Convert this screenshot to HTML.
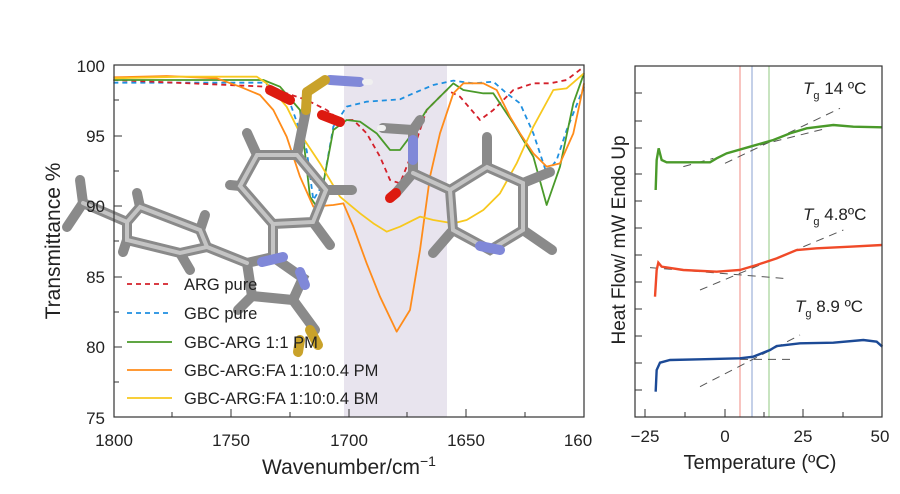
<!DOCTYPE html>
<html><head><meta charset="utf-8"><style>
body{margin:0;background:#fff;width:900px;height:494px;overflow:hidden;font-family:"Liberation Sans",sans-serif}
svg{display:block}
text{font-family:"Liberation Sans",sans-serif;fill:#222}
</style></head><body>
<svg width="900" height="494" viewBox="0 0 900 494" xmlns="http://www.w3.org/2000/svg">
<rect x="344" y="65" width="103" height="352" fill="#e8e4ee"/>
<g fill="none" stroke-width="1.8" stroke-linejoin="round">
<g transform="translate(100,50) scale(0.33333)">
<polyline vector-effect="non-scaling-stroke" stroke="#1e8fe0" stroke-dasharray="5,4" points="40,98 490,98 560,130 620,300 640,450 670,400 700,230 740,170 800,155 900,148 940,130 1000,105 1060,92 1120,100 1180,95 1220,130 1260,160 1300,250 1340,370 1370,330 1400,240 1452,110"/>
<polyline vector-effect="non-scaling-stroke" stroke="#d4202a" stroke-dasharray="5,4" points="40,90 500,110 560,130 620,150 680,180 720,210 760,210 800,250 840,320 870,390 900,400 940,300 980,180 1040,120 1080,140 1140,210 1180,180 1240,120 1300,100 1350,100 1400,90 1452,50"/>
<polyline vector-effect="non-scaling-stroke" stroke="#4a9a2a" points="40,90 490,90 540,110 600,180 630,440 650,470 670,400 700,240 740,210 780,215 830,250 870,300 900,300 930,260 980,180 1060,100 1090,120 1150,130 1180,130 1240,220 1300,320 1340,465 1380,350 1420,160 1452,70"/>
<polyline vector-effect="non-scaling-stroke" stroke="#ff8c1a" points="40,82 200,78 350,85 420,110 480,135 520,180 560,260 600,380 640,470 700,465 730,460 760,530 800,640 840,740 890,845 930,780 960,600 990,380 1020,250 1060,130 1090,100 1150,100 1190,120 1230,200 1260,250 1300,310 1340,350 1380,340 1420,250 1452,100"/>
<polyline vector-effect="non-scaling-stroke" stroke="#f7c81e" points="40,85 250,80 470,80 500,100 560,170 600,250 660,340 720,440 780,490 820,520 860,545 900,530 960,500 1000,510 1060,520 1100,510 1150,480 1200,430 1250,340 1300,230 1360,120 1400,115 1452,70"/>
</g></g>
<g stroke-linecap="round" fill="none">
<g stroke="#8a8a8a" stroke-width="10">
<polyline points="83,203 127,222 140,207 200,230 207,247 180,253 127,240 127,222"/>
<line x1="83" y1="203" x2="80" y2="180"/><line x1="83" y1="203" x2="67" y2="227"/>
<line x1="207" y1="247" x2="247" y2="263"/>
<polyline points="247,263 273,257 303,278 293,300 252,296 247,263"/>
<polyline points="273,257 273,224 313,222 326,190 297,155 257,155 240,186 273,224"/>
<line x1="297" y1="155" x2="306" y2="110"/>
<line x1="257" y1="155" x2="247" y2="133"/><line x1="240" y1="186" x2="230" y2="185"/>
<line x1="326" y1="190" x2="352" y2="190"/><line x1="313" y1="222" x2="330" y2="245"/>
<line x1="293" y1="300" x2="315" y2="330"/><line x1="252" y1="296" x2="238" y2="310"/>
<line x1="140" y1="207" x2="137" y2="193"/><line x1="127" y1="240" x2="123" y2="252"/>
<line x1="200" y1="230" x2="205" y2="215"/><line x1="180" y1="253" x2="190" y2="270"/>
<polyline points="413,130 413,173 396,193"/>
<polyline points="413,173 450,190 487,167 523,183 523,230 490,250 453,230 450,190"/>
<line x1="487" y1="167" x2="487" y2="137"/><line x1="523" y1="183" x2="550" y2="172"/>
<line x1="523" y1="230" x2="552" y2="250"/><line x1="453" y1="230" x2="433" y2="253"/>
<line x1="413" y1="130" x2="383" y2="128"/><line x1="413" y1="130" x2="420" y2="120"/>
</g>
<g stroke="#c4c4c4" stroke-width="4">
<polyline points="83,203 127,222 140,207 200,230 207,247 180,253 127,240 127,222"/>
<polyline points="273,257 273,224 313,222 326,190 297,155 257,155 240,186 273,224"/>
<polyline points="413,173 450,190 487,167 523,183 523,230 490,250 453,230 450,190"/>
<line x1="207" y1="247" x2="247" y2="263"/>
</g>
<g stroke="#8088d8" stroke-width="10"><line x1="262" y1="262" x2="283" y2="257"/><line x1="300" y1="272" x2="305" y2="285"/><line x1="413" y1="140" x2="413" y2="160"/><line x1="480" y1="246" x2="500" y2="250"/><line x1="330" y1="80" x2="360" y2="82"/></g>
<g stroke="#c9a22a" stroke-width="10"><line x1="306" y1="110" x2="307" y2="92"/><line x1="307" y1="92" x2="325" y2="80"/><line x1="310" y1="330" x2="318" y2="345"/><line x1="300" y1="340" x2="298" y2="352"/></g>
<g stroke="#dd1a10" stroke-width="10"><line x1="270" y1="90" x2="290" y2="100"/><line x1="322" y1="115" x2="340" y2="122"/><line x1="396" y1="193" x2="390" y2="198"/></g>
<g stroke="#f0f0f0" stroke-width="6"><line x1="365" y1="82" x2="370" y2="82"/><line x1="383" y1="128" x2="380" y2="128"/></g>
</g>
<rect x="114" y="65" width="470" height="352" fill="none" stroke="#333" stroke-width="1.2"/>
<g stroke="#333" stroke-width="1">
<line x1="114" y1="136" x2="122" y2="136"/><line x1="114" y1="206" x2="122" y2="206"/><line x1="114" y1="277" x2="122" y2="277"/><line x1="114" y1="347" x2="122" y2="347"/>
<line x1="114" y1="100" x2="119" y2="100"/><line x1="114" y1="171" x2="119" y2="171"/><line x1="114" y1="241" x2="119" y2="241"/><line x1="114" y1="312" x2="119" y2="312"/><line x1="114" y1="382" x2="119" y2="382"/>
<line x1="231" y1="417" x2="231" y2="409"/><line x1="349" y1="417" x2="349" y2="409"/><line x1="466" y1="417" x2="466" y2="409"/>
<line x1="172" y1="417" x2="172" y2="412"/><line x1="290" y1="417" x2="290" y2="412"/><line x1="407" y1="417" x2="407" y2="412"/><line x1="525" y1="417" x2="525" y2="412"/>
</g>
<g font-size="17" text-anchor="end">
<text x="105" y="72">100</text><text x="105" y="142">95</text><text x="105" y="212">90</text><text x="105" y="283">85</text><text x="105" y="353">80</text><text x="105" y="424">75</text>
</g>
<g font-size="17" text-anchor="middle">
<text x="114" y="446">1800</text><text x="231" y="446">1750</text><text x="349" y="446">1700</text><text x="466" y="446">1650</text><text x="578" y="446">160</text>
</g>
<text x="349" y="474" font-size="21" text-anchor="middle">Wavenumber/cm<tspan font-size="14" dy="-8">−1</tspan></text>
<text transform="translate(60,241) rotate(-90)" font-size="21" text-anchor="middle">Transmittance %</text>
<g stroke-width="1.8">
<line x1="127" y1="284" x2="172" y2="284" stroke="#d4202a" stroke-dasharray="5,4"/>
<line x1="127" y1="313" x2="172" y2="313" stroke="#1e8fe0" stroke-dasharray="5,4"/>
<line x1="127" y1="342" x2="172" y2="342" stroke="#4a9a2a"/>
<line x1="127" y1="370" x2="172" y2="370" stroke="#ff8c1a"/>
<line x1="127" y1="398" x2="172" y2="398" stroke="#f7c81e"/>
</g>
<g font-size="16.5">
<text x="184" y="290">ARG pure</text><text x="184" y="319">GBC pure</text><text x="184" y="348">GBC-ARG 1:1 PM</text><text x="184" y="376">GBC-ARG:FA 1:10:0.4 PM</text><text x="184" y="404">GBC-ARG:FA 1:10:0.4 BM</text>
</g>
<line x1="740" y1="66" x2="740" y2="417" stroke="#f08a80" stroke-width="1"/>
<line x1="752" y1="66" x2="752" y2="417" stroke="#8aa0d0" stroke-width="1"/>
<line x1="769" y1="66" x2="769" y2="417" stroke="#90c880" stroke-width="1"/>
<g transform="translate(600,50) scale(0.33333)" fill="none">
<g stroke="#555" stroke-dasharray="8,6" stroke-width="1">
<line vector-effect="non-scaling-stroke" x1="250" y1="350" x2="340" y2="325"/>
<line vector-effect="non-scaling-stroke" x1="375" y1="340" x2="720" y2="175"/>
<line vector-effect="non-scaling-stroke" x1="480" y1="285" x2="680" y2="235"/>
<line vector-effect="non-scaling-stroke" x1="150" y1="653" x2="550" y2="685"/>
<line vector-effect="non-scaling-stroke" x1="300" y1="720" x2="730" y2="540"/>
<line vector-effect="non-scaling-stroke" x1="300" y1="1010" x2="600" y2="855"/>
<line vector-effect="non-scaling-stroke" x1="420" y1="928" x2="580" y2="928"/>
</g>
<polyline vector-effect="non-scaling-stroke" stroke="#4a9a2a" stroke-width="2.4" points="167,420 170,330 176,295 185,330 200,337 330,337 350,325 380,310 450,290 520,270 570,250 620,235 700,225 760,230 847,232"/>
<polyline vector-effect="non-scaling-stroke" stroke="#f04a28" stroke-width="2.4" points="165,740 170,660 175,638 185,650 250,660 350,665 420,660 470,645 530,625 590,600 650,595 750,590 847,585"/>
<polyline vector-effect="non-scaling-stroke" stroke="#1c4a96" stroke-width="2.4" points="167,1025 170,960 180,938 210,930 300,928 420,925 460,920 510,900 530,888 600,880 700,878 790,870 830,875 847,890"/>
</g>
<rect x="635" y="66" width="247" height="351" fill="none" stroke="#333" stroke-width="1.2"/>
<g stroke="#333" stroke-width="1">
<line x1="635" y1="93" x2="642" y2="93"/><line x1="635" y1="121" x2="642" y2="121"/><line x1="635" y1="148" x2="642" y2="148"/><line x1="635" y1="174" x2="642" y2="174"/><line x1="635" y1="201" x2="642" y2="201"/><line x1="635" y1="228" x2="642" y2="228"/><line x1="635" y1="255" x2="642" y2="255"/><line x1="635" y1="282" x2="642" y2="282"/><line x1="635" y1="309" x2="642" y2="309"/><line x1="635" y1="336" x2="642" y2="336"/><line x1="635" y1="363" x2="642" y2="363"/><line x1="635" y1="390" x2="642" y2="390"/>
<line x1="645" y1="417" x2="645" y2="409"/><line x1="725" y1="417" x2="725" y2="409"/><line x1="803" y1="417" x2="803" y2="409"/>
<line x1="685" y1="417" x2="685" y2="412"/><line x1="764" y1="417" x2="764" y2="412"/><line x1="843" y1="417" x2="843" y2="412"/>
</g>
<g font-size="17" text-anchor="middle">
<text x="645" y="442">−25</text><text x="725" y="442">0</text><text x="803" y="442">25</text><text x="880" y="442">50</text>
</g>
<text x="760" y="469" font-size="20" text-anchor="middle">Temperature (ºC)</text>
<text transform="translate(625,240) rotate(-90)" font-size="19" text-anchor="middle">Heat Flow/ mW Endo Up</text>
<g font-size="17">
<text x="803" y="94"><tspan font-style="italic">T</tspan><tspan font-size="11" dy="5">g</tspan><tspan dy="-5"> 14 ºC</tspan></text>
<text x="803" y="220"><tspan font-style="italic">T</tspan><tspan font-size="11" dy="5">g</tspan><tspan dy="-5"> 4.8ºC</tspan></text>
<text x="795" y="312"><tspan font-style="italic">T</tspan><tspan font-size="11" dy="5">g</tspan><tspan dy="-5"> 8.9 ºC</tspan></text>
</g>
</svg>
</body></html>
